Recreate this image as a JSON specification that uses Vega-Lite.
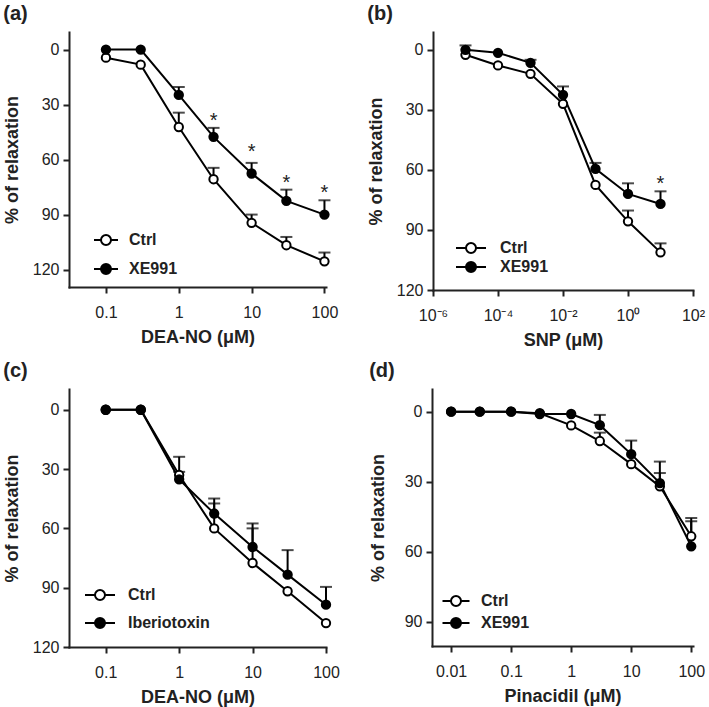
{
  "$schema": "https://vega.github.io/schema/vega-lite/v6.json",
  "padding": {"left": 3, "top": 4, "right": 5, "bottom": 5},
  "background": "white",
  "spacing": 12,
  "vconcat": [
    {
      "spacing": 29,
      "resolve": {"scale": {"fill": "independent"}, "legend": {"fill": "independent"}},
      "hconcat": [
        {
          "title": {"text": "(a)"},
          "width": 257,
          "height": 255,
          "data": {"values": [
            {"conc": 0.1, "group": "Ctrl", "mean": 4.4, "lo": null},
            {"conc": 0.3, "group": "Ctrl", "mean": 8.2, "lo": null},
            {"conc": 1, "group": "Ctrl", "mean": 42.2, "lo": 34.4},
            {"conc": 3, "group": "Ctrl", "mean": 70.7, "lo": 64.5},
            {"conc": 10, "group": "Ctrl", "mean": 94.5, "lo": 90},
            {"conc": 30, "group": "Ctrl", "mean": 106.7, "lo": 102.2},
            {"conc": 100, "group": "Ctrl", "mean": 115.5, "lo": 110.7},
            {"conc": 0.1, "group": "XE991", "mean": 0, "lo": null},
            {"conc": 0.3, "group": "XE991", "mean": 0, "lo": null},
            {"conc": 1, "group": "XE991", "mean": 24.7, "lo": 20.4},
            {"conc": 3, "group": "XE991", "mean": 47.6, "lo": 42.7},
            {"conc": 10, "group": "XE991", "mean": 67.6, "lo": 61.8},
            {"conc": 30, "group": "XE991", "mean": 82.5, "lo": 76.4},
            {"conc": 100, "group": "XE991", "mean": 90, "lo": 82.2}
          ]},
          "encoding": {
            "x": {"field": "conc", "type": "quantitative", "title": "DEA-NO (μM)",
                  "scale": {"type": "log", "domain": [0.0311, 105], "nice": false},
                  "axis": {"values": [0.1, 1, 10, 100], "format": "~g"}}
          },
          "layer": [
            {"mark": {"type": "line", "color": "black", "strokeWidth": 2},
             "encoding": {"y": {"field": "mean", "type": "quantitative", "title": "% of relaxation",
                                "scale": {"domain": [-9.6, 129.5], "reverse": true, "nice": false, "zero": false},
                                "axis": {"values": [0, 30, 60, 90, 120]}},
                          "detail": {"field": "group"}}},
            {"transform": [{"filter": "isValid(datum.lo)"}],
             "mark": {"type": "rule", "color": "black", "strokeWidth": 2},
             "encoding": {"y": {"field": "mean", "type": "quantitative", "title": "% of relaxation"}, "y2": {"field": "lo"}}},
            {"transform": [{"filter": "isValid(datum.lo)"}],
             "mark": {"type": "tick", "orient": "horizontal", "color": "black", "thickness": 2, "size": 12},
             "encoding": {"y": {"field": "lo", "type": "quantitative", "title": "% of relaxation"}}},
            {"mark": {"type": "point", "shape": "circle", "filled": true, "stroke": "black", "strokeWidth": 2, "size": 70, "opacity": 1},
             "encoding": {"y": {"field": "mean", "type": "quantitative", "title": "% of relaxation"},
                          "fill": {"field": "group", "type": "nominal",
                                   "scale": {"domain": ["Ctrl", "XE991"], "range": ["white", "black"]},
                                   "legend": {"orient": "none", "legendX": 29, "legendY": 200, "title": null,
                                              "symbolType": "M-2,0H-0.833M0.833,0H2M-0.833,0A0.833,0.833 0 1,1 0.833,0A0.833,0.833 0 1,1 -0.833,0Z",
                                              "symbolSize": 144, "rowPadding": 11, "labelOffset": 15}}}},
            {"data": {"values": [
              {"conc": 3, "star": 37.1}, {"conc": 10, "star": 54.4}, {"conc": 30, "star": 70.9}, {"conc": 100, "star": 76.7}
             ]},
             "mark": {"type": "text", "text": "*", "fontSize": 20, "font": "Liberation Sans", "color": "#222", "baseline": "alphabetic", "dy": 9},
             "encoding": {"y": {"field": "star", "type": "quantitative", "title": "% of relaxation"}}}
          ]
        },
        {
          "title": {"text": "(b)"},
          "width": 260,
          "height": 258,
          "data": {"values": [
            {"conc": 0.00001, "group": "Ctrl", "mean": 2.5, "lo": null},
            {"conc": 0.0001, "group": "Ctrl", "mean": 7.8, "lo": null},
            {"conc": 0.001, "group": "Ctrl", "mean": 12, "lo": null},
            {"conc": 0.01, "group": "Ctrl", "mean": 27, "lo": null},
            {"conc": 0.1, "group": "Ctrl", "mean": 67.5, "lo": null},
            {"conc": 1, "group": "Ctrl", "mean": 85.7, "lo": 80.3},
            {"conc": 10, "group": "Ctrl", "mean": 101.2, "lo": 96.7},
            {"conc": 0.00001, "group": "XE991", "mean": 0, "lo": -2.2},
            {"conc": 0.0001, "group": "XE991", "mean": 1.5, "lo": null},
            {"conc": 0.001, "group": "XE991", "mean": 6.5, "lo": 5},
            {"conc": 0.01, "group": "XE991", "mean": 22.5, "lo": 18.3},
            {"conc": 0.1, "group": "XE991", "mean": 59.5, "lo": 56.5},
            {"conc": 1, "group": "XE991", "mean": 72, "lo": 66.7},
            {"conc": 10, "group": "XE991", "mean": 77, "lo": 70.7}
          ]},
          "encoding": {
            "x": {"field": "conc", "type": "quantitative", "title": "SNP (μM)",
                  "scale": {"type": "log", "domain": [0.000001, 100], "nice": false},
                  "axis": {"values": [0.000001, 0.0001, 0.01, 1, 100],
                           "labelExpr": "datum.value < 0.00001 ? '10⁻⁶' : datum.value < 0.001 ? '10⁻⁴' : datum.value < 0.1 ? '10⁻²' : datum.value < 10 ? '10⁰' : '10²'"}}
          },
          "layer": [
            {"mark": {"type": "line", "color": "black", "strokeWidth": 2},
             "encoding": {"y": {"field": "mean", "type": "quantitative", "title": "% of relaxation",
                                "scale": {"domain": [-8.9, 120], "reverse": true, "nice": false, "zero": false},
                                "axis": {"values": [0, 30, 60, 90, 120]}},
                          "detail": {"field": "group"}}},
            {"transform": [{"filter": "isValid(datum.lo)"}],
             "mark": {"type": "rule", "color": "black", "strokeWidth": 2},
             "encoding": {"y": {"field": "mean", "type": "quantitative", "title": "% of relaxation"}, "y2": {"field": "lo"}}},
            {"transform": [{"filter": "isValid(datum.lo)"}],
             "mark": {"type": "tick", "orient": "horizontal", "color": "black", "thickness": 2, "size": 12},
             "encoding": {"y": {"field": "lo", "type": "quantitative", "title": "% of relaxation"}}},
            {"mark": {"type": "point", "shape": "circle", "filled": true, "stroke": "black", "strokeWidth": 2, "size": 70, "opacity": 1},
             "encoding": {"y": {"field": "mean", "type": "quantitative", "title": "% of relaxation"},
                          "fill": {"field": "group", "type": "nominal",
                                   "scale": {"domain": ["Ctrl", "XE991"], "range": ["white", "black"]},
                                   "legend": {"orient": "none", "legendX": 30, "legendY": 208, "title": null,
                                              "symbolType": "M-2.5,0H-0.833M0.833,0H2.5M-0.833,0A0.833,0.833 0 1,1 0.833,0A0.833,0.833 0 1,1 -0.833,0Z",
                                              "symbolSize": 144, "rowPadding": 1, "labelOffset": 21}}}},
            {"data": {"values": [{"conc": 10, "star": 65.3}]},
             "mark": {"type": "text", "text": "*", "fontSize": 20, "font": "Liberation Sans", "color": "#222", "baseline": "alphabetic", "dy": 9},
             "encoding": {"y": {"field": "star", "type": "quantitative", "title": "% of relaxation"}}}
          ]
        }
      ]
    },
    {
      "spacing": 29,
      "resolve": {"scale": {"fill": "independent"}, "legend": {"fill": "independent"}},
      "hconcat": [
        {
          "title": {"text": "(c)"},
          "width": 257,
          "height": 258,
          "data": {"values": [
            {"conc": 0.1, "group": "Ctrl", "mean": 0, "lo": null},
            {"conc": 0.3, "group": "Ctrl", "mean": 0, "lo": null},
            {"conc": 1, "group": "Ctrl", "mean": 33, "lo": 31.4},
            {"conc": 3, "group": "Ctrl", "mean": 60, "lo": 47.4},
            {"conc": 10, "group": "Ctrl", "mean": 77.5, "lo": 60},
            {"conc": 30, "group": "Ctrl", "mean": 91.8, "lo": null},
            {"conc": 100, "group": "Ctrl", "mean": 107.9, "lo": null},
            {"conc": 0.1, "group": "Iberiotoxin", "mean": 0, "lo": null},
            {"conc": 0.3, "group": "Iberiotoxin", "mean": 0, "lo": null},
            {"conc": 1, "group": "Iberiotoxin", "mean": 35.2, "lo": 23.8},
            {"conc": 3, "group": "Iberiotoxin", "mean": 52.5, "lo": 44.9},
            {"conc": 10, "group": "Iberiotoxin", "mean": 69.4, "lo": 57.5},
            {"conc": 30, "group": "Iberiotoxin", "mean": 83.4, "lo": 71},
            {"conc": 100, "group": "Iberiotoxin", "mean": 98.6, "lo": 89.6}
          ]},
          "encoding": {
            "x": {"field": "conc", "type": "quantitative", "title": "DEA-NO (μM)",
                  "scale": {"type": "log", "domain": [0.0316, 100], "nice": false},
                  "axis": {"values": [0.1, 1, 10, 100], "format": "~g"}}
          },
          "layer": [
            {"mark": {"type": "line", "color": "black", "strokeWidth": 2},
             "encoding": {"y": {"field": "mean", "type": "quantitative", "title": "% of relaxation",
                                "scale": {"domain": [-10.5, 120], "reverse": true, "nice": false, "zero": false},
                                "axis": {"values": [0, 30, 60, 90, 120]}},
                          "detail": {"field": "group"}}},
            {"transform": [{"filter": "isValid(datum.lo)"}],
             "mark": {"type": "rule", "color": "black", "strokeWidth": 2},
             "encoding": {"y": {"field": "mean", "type": "quantitative", "title": "% of relaxation"}, "y2": {"field": "lo"}}},
            {"transform": [{"filter": "isValid(datum.lo)"}],
             "mark": {"type": "tick", "orient": "horizontal", "color": "black", "thickness": 2, "size": 12},
             "encoding": {"y": {"field": "lo", "type": "quantitative", "title": "% of relaxation"}}},
            {"mark": {"type": "point", "shape": "circle", "filled": true, "stroke": "black", "strokeWidth": 2, "size": 70, "opacity": 1},
             "encoding": {"y": {"field": "mean", "type": "quantitative", "title": "% of relaxation"},
                          "fill": {"field": "group", "type": "nominal",
                                   "scale": {"domain": ["Ctrl", "Iberiotoxin"], "range": ["white", "black"]},
                                   "legend": {"orient": "none", "legendX": 23, "legendY": 198, "title": null,
                                              "symbolType": "M-2.5,0H-0.833M0.833,0H2.5M-0.833,0A0.833,0.833 0 1,1 0.833,0A0.833,0.833 0 1,1 -0.833,0Z",
                                              "symbolSize": 144, "rowPadding": 10, "labelOffset": 20}}}}
          ]
        },
        {
          "title": {"text": "(d)"},
          "width": 261,
          "height": 257,
          "data": {"values": [
            {"conc": 0.01, "group": "Ctrl", "mean": 0, "lo": null},
            {"conc": 0.03, "group": "Ctrl", "mean": 0, "lo": null},
            {"conc": 0.1, "group": "Ctrl", "mean": 0, "lo": null},
            {"conc": 0.3, "group": "Ctrl", "mean": 0.7, "lo": null},
            {"conc": 1, "group": "Ctrl", "mean": 5.9, "lo": null},
            {"conc": 3, "group": "Ctrl", "mean": 12.6, "lo": 9},
            {"conc": 10, "group": "Ctrl", "mean": 22.5, "lo": null},
            {"conc": 30, "group": "Ctrl", "mean": 32, "lo": 26.3},
            {"conc": 100, "group": "Ctrl", "mean": 53.4, "lo": 47},
            {"conc": 0.01, "group": "XE991", "mean": 0, "lo": null},
            {"conc": 0.03, "group": "XE991", "mean": 0, "lo": null},
            {"conc": 0.1, "group": "XE991", "mean": 0, "lo": null},
            {"conc": 0.3, "group": "XE991", "mean": 1, "lo": null},
            {"conc": 1, "group": "XE991", "mean": 1, "lo": null},
            {"conc": 3, "group": "XE991", "mean": 5.8, "lo": 1.4},
            {"conc": 10, "group": "XE991", "mean": 18.2, "lo": 12.4},
            {"conc": 30, "group": "XE991", "mean": 30.6, "lo": 21.4},
            {"conc": 100, "group": "XE991", "mean": 57.7, "lo": 45.6}
          ]},
          "encoding": {
            "x": {"field": "conc", "type": "quantitative", "title": "Pinacidil (μM)",
                  "scale": {"type": "log", "domain": [0.0048, 107], "nice": false},
                  "axis": {"values": [0.01, 0.1, 1, 10, 100], "format": "~g"}}
          },
          "layer": [
            {"mark": {"type": "line", "color": "black", "strokeWidth": 2},
             "encoding": {"y": {"field": "mean", "type": "quantitative", "title": "% of relaxation",
                                "scale": {"domain": [-9.7, 100.4], "reverse": true, "nice": false, "zero": false},
                                "axis": {"values": [0, 30, 60, 90], "titlePadding": 17}},
                          "detail": {"field": "group"}}},
            {"transform": [{"filter": "isValid(datum.lo)"}],
             "mark": {"type": "rule", "color": "black", "strokeWidth": 2},
             "encoding": {"y": {"field": "mean", "type": "quantitative", "title": "% of relaxation"}, "y2": {"field": "lo"}}},
            {"transform": [{"filter": "isValid(datum.lo)"}],
             "mark": {"type": "tick", "orient": "horizontal", "color": "black", "thickness": 2, "size": 12},
             "encoding": {"y": {"field": "lo", "type": "quantitative", "title": "% of relaxation"}}},
            {"mark": {"type": "point", "shape": "circle", "filled": true, "stroke": "black", "strokeWidth": 2, "size": 70, "opacity": 1},
             "encoding": {"y": {"field": "mean", "type": "quantitative", "title": "% of relaxation"},
                          "fill": {"field": "group", "type": "nominal",
                                   "scale": {"domain": ["Ctrl", "XE991"], "range": ["white", "black"]},
                                   "legend": {"orient": "none", "legendX": 16, "legendY": 204, "title": null,
                                              "symbolType": "M-2.25,0H-0.833M0.833,0H2.25M-0.833,0A0.833,0.833 0 1,1 0.833,0A0.833,0.833 0 1,1 -0.833,0Z",
                                              "symbolSize": 144, "rowPadding": 4, "labelOffset": 17}}}}
          ]
        }
      ]
    }
  ],
  "resolve": {"scale": {"fill": "independent"}, "legend": {"fill": "independent"}},
  "config": {
    "view": {"stroke": null},
    "font": "Liberation Sans",
    "axis": {
      "grid": false,
      "domainColor": "#222", "domainWidth": 2, "domainCap": "square",
      "tickColor": "#222", "tickWidth": 2, "tickSize": 6,
      "labelFont": "Liberation Sans", "labelFontSize": 16, "labelColor": "#222", "labelPadding": 4,
      "labelFlush": false, "labelOverlap": false,
      "titleFont": "Liberation Sans", "titleFontSize": 18, "titleFontWeight": "bold", "titleColor": "#222"
    },
    "axisY": {"titlePadding": 11},
    "axisX": {"titlePadding": 8, "labelPadding": 11},
    "title": {"font": "Liberation Sans", "fontSize": 20, "fontWeight": "bold", "anchor": "start", "frame": "bounds", "offset": 8, "color": "#222"},
    "legend": {
      "labelFont": "Liberation Sans", "labelFontSize": 16, "labelFontWeight": "bold", "labelColor": "#222",
      "symbolStrokeColor": "black", "symbolStrokeWidth": 2, "padding": 0
    }
  }
}
